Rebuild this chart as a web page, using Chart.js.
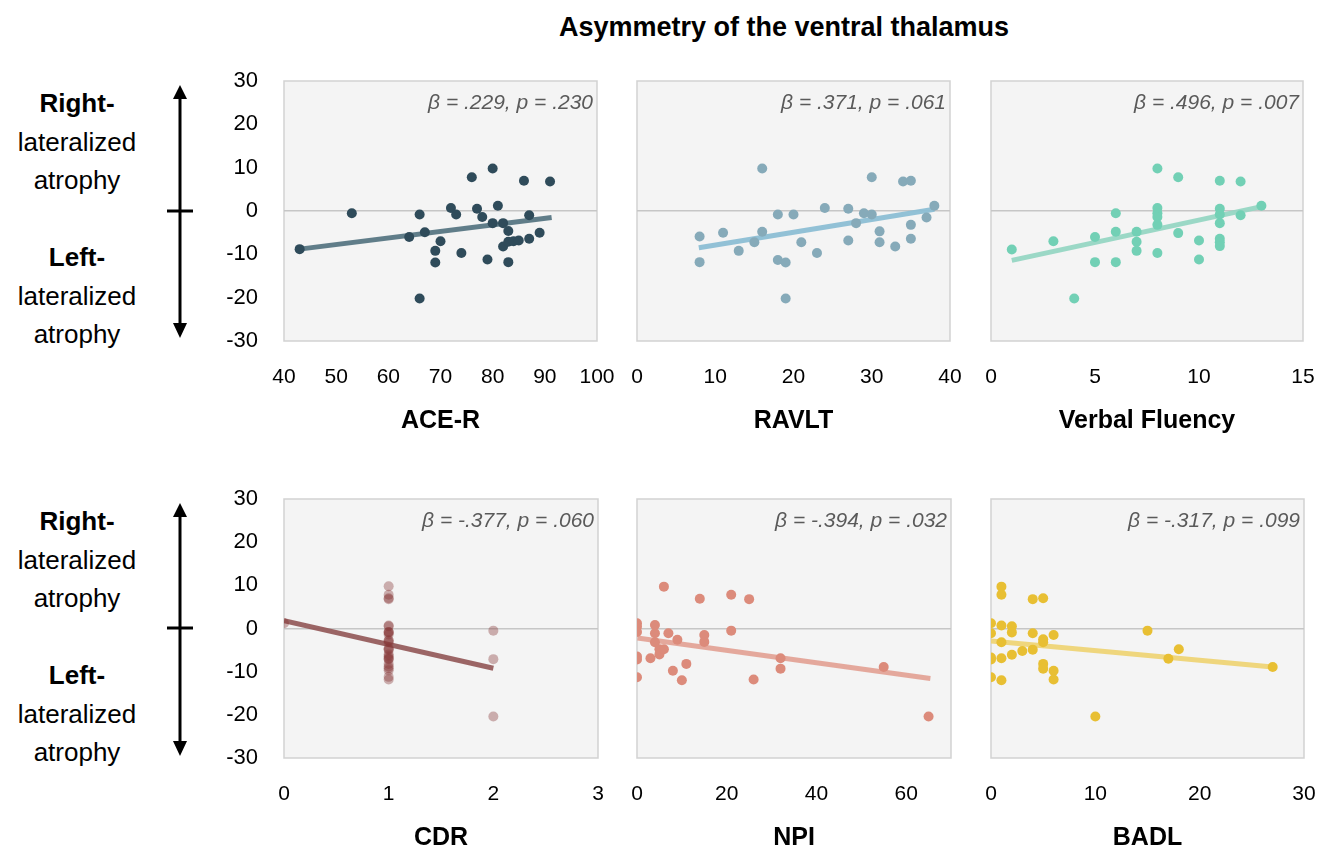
<!DOCTYPE html>
<html><head><meta charset="utf-8">
<script src="https://cdn.jsdelivr.net/npm/chart.js@4.4.0/dist/chart.umd.min.js"></script>
<style>
html,body{margin:0;padding:0;background:#fff;}
body{width:1335px;height:857px;position:relative;overflow:hidden;font-family:"Liberation Sans",Arial,sans-serif;color:#000;}
canvas{position:absolute;}
#title{position:absolute;left:784px;top:27px;transform:translate(-50%,-50%);font-weight:bold;font-size:27px;white-space:nowrap;}
.side{position:absolute;left:-5px;width:164px;text-align:center;font-size:26px;line-height:38.5px;}
.side b{font-weight:bold;}
svg{position:absolute;left:0;top:0;}
</style></head><body>
<div id="title">Asymmetry of the ventral thalamus</div>
<div class="side" style="top:84px"><b>Right-</b><br>lateralized<br>atrophy</div>
<div class="side" style="top:238px"><b>Left-</b><br>lateralized<br>atrophy</div>
<div class="side" style="top:502px"><b>Right-</b><br>lateralized<br>atrophy</div>
<div class="side" style="top:656px"><b>Left-</b><br>lateralized<br>atrophy</div>
<svg width="1335" height="857">
  <g stroke="#000" stroke-width="3" fill="#000">
    <line x1="180" y1="95" x2="180" y2="327"/>
    <polygon points="180,85 173,99 187,99" stroke="none"/>
    <polygon points="180,338 173,323 187,323" stroke="none"/>
    <line x1="167" y1="211" x2="193" y2="211"/>
    <line x1="180" y1="513" x2="180" y2="745"/>
    <polygon points="180,503 173,517 187,517" stroke="none"/>
    <polygon points="180,756 173,741 187,741" stroke="none"/>
    <line x1="167" y1="628" x2="193" y2="628"/>
  </g>
</svg>
<canvas id="c1"></canvas><canvas id="c2"></canvas><canvas id="c3"></canvas>
<canvas id="c4"></canvas><canvas id="c5"></canvas><canvas id="c6"></canvas>
<script>
// ---------- data ----------
const yTicks = [-30, -20, -10, 0, 10, 20, 30];

const aceX = [43,53,66,64,67,70,69,69,66,72,73,74,76,77,78,79,80,80,81,82,83,82,83,84,85,83,86,87,87,89,91];
const aceY = [-8.8,-0.5,-0.8,-6,-4.9,-7,-9.2,-11.9,-20.2,0.7,-0.8,-9.7,7.8,0.5,-1.4,-11.2,9.8,-2.8,1.2,-2.8,-4.6,-8.2,-7.1,-7,-6.8,-11.8,7,-1,-6.4,-5,6.8];
const aceTrend = [[43,-8.8],[91.3,-1.5]];
const aceTicks = [40,50,60,70,80,90,100];

const ravltX = [8,8,11,13,15,16,16,18,18,19,19,20,21,23,24,27,27,28,29,30,30,31,31,33,34,35,35,35,37,38];
const ravltY = [-5.9,-11.8,-5,-9.2,-7.2,-4.8,9.8,-0.8,-11.3,-11.9,-20.2,-0.8,-7.2,-9.7,0.7,0.5,-6.8,-2.8,-0.5,-0.8,7.8,-4.7,-7.2,-8.2,6.8,7,-3.2,-6.4,-1.5,1.2];
const ravltTrend = [[7.9,-8.5],[38,0.4]];
const ravltTicks = [0,10,20,30,40];

const vfX = [1,3,4,5,5,6,6,6,7,7,7,8,8,8,8,8,8,9,9,10,10,11,11,11,11,11,11,11,12,12,13];
const vfY = [-8.9,-7,-20.2,-6,-11.8,-0.5,-4.8,-11.8,-4.8,-7.1,-9.2,9.8,0.7,-0.5,-1.4,-3.2,-9.7,7.8,-5.1,-6.8,-11.2,7,0.5,-0.8,-2.8,-6.4,-7.2,-8.1,6.8,-1,1.2];
const vfTrend = [[1,-11.4],[13,1.0]];
const vfTicks = [0,5,10,15];

const cdrX = [0,1,1,1,1,1,1,1,1,1,1,1,1,1,1,1,1,1,1,1,1,1,1,1,1,1,1,1,2,2,2];
const cdrY = [1.2,9.8,7.8,7,6.8,0.7,0.5,-0.8,-0.8,-1,-1.4,-2.8,-2.8,-3.2,-4.6,-4.8,-5,-6,-6.4,-6.8,-7,-7.2,-8.2,-8.8,-9.2,-9.7,-11.2,-11.8,-0.5,-7.1,-20.4];
const cdrTrend = [[0,1.8],[2,-9.2]];
const cdrTicks = [0,1,2,3];

const npiX = [0,0,0,0,0,0,3,4,4,4,5,5,6,6,7,8,9,10,11,14,15,15,21,21,25,26,32,32,55,65];
const npiY = [1.2,0.4,-0.8,-6.5,-7.2,-11.3,-6.9,0.8,-1.1,-3.2,-4.8,-6,9.7,-4.8,-1.1,-9.8,-2.6,-12,-8.2,6.9,-1.5,-3.1,7.8,-0.5,6.8,-11.8,-6.9,-9.3,-8.9,-20.4];
const npiTrend = [[0.1,-2.2],[65.4,-11.6]];
const npiTicks = [0,20,40,60];

const badlX = [0,0,0,0,0,1,1,1,1,1,1,2,2,2,3,4,4,4,5,5,5,5,5,6,6,6,10,15,17,18,27];
const badlY = [1.2,-1.1,-6.7,-7.2,-11.3,9.7,7.8,0.7,-3.2,-6.9,-12,0.5,-0.9,-6.1,-5.2,6.8,-1.1,-4.9,7,-2.5,-3.2,-8.2,-9.3,-1.5,-9.8,-11.8,-20.4,-0.5,-7,-4.8,-8.9];
const badlTrend = [[0,-2.9],[27,-8.9]];
const badlTicks = [0,10,20,30];

const stats = ['β = .229, p = .230','β = .371, p = .061','β = .496, p = .007','β = -.377, p = .060','β = -.394, p = .032','β = -.317, p = .099'];
const xTitles = ['ACE-R','RAVLT','Verbal Fluency','CDR','NPI','BADL'];

// ---------- rendering ----------
Chart.defaults.font.family = '"Liberation Sans", Arial, sans-serif';
Chart.defaults.color = '#000';

const deco = {
  id: 'deco',
  beforeDraw(chart) {
    const {ctx, chartArea: a} = chart;
    ctx.save();
    ctx.fillStyle = '#f4f4f4';
    ctx.fillRect(a.left, a.top, a.right - a.left, a.bottom - a.top);
    ctx.strokeStyle = '#d2d2d2';
    ctx.lineWidth = 1.5;
    ctx.strokeRect(a.left, a.top, a.right - a.left, a.bottom - a.top);
    ctx.restore();
  },
  afterDraw(chart, args, opts) {
    const {ctx, chartArea: a} = chart;
    ctx.save();
    ctx.font = 'italic 21px "Liberation Sans", Arial, sans-serif';
    ctx.fillStyle = '#5a5a5a';
    ctx.textAlign = 'right';
    ctx.textBaseline = 'middle';
    ctx.fillText(opts.text, a.right - 4, a.top + 22);
    ctx.restore();
  }
};

function pts(xs, ys) { return xs.map((x, i) => ({x: x, y: ys[i]})); }

function makeChart(id, g, xs, ys, trend, xMin, xMax, xTicks, showY, ptColor, lineColor, stat, xTitle) {
  const cv = document.getElementById(id);
  cv.width = g.w; cv.height = g.h;
  cv.style.left = g.l + 'px'; cv.style.top = g.t + 'px';
  cv.style.width = g.w + 'px'; cv.style.height = g.h + 'px';
  new Chart(cv, {
    type: 'scatter',
    data: {
      datasets: [
        {type: 'scatter', data: pts(xs, ys), backgroundColor: ptColor, borderWidth: 0, pointRadius: 5, pointHoverRadius: 5, order: 1},
        {type: 'line', data: trend.map(p => ({x: p[0], y: p[1]})), borderColor: lineColor, borderWidth: 5, pointRadius: 0, fill: false, order: 2, borderCapStyle: 'butt'}
      ]
    },
    options: {
      responsive: false, animation: false, devicePixelRatio: 1,
      layout: {padding: {top: g.pt, left: g.pl, right: g.pr, bottom: 0}},
      plugins: {legend: {display: false}, tooltip: {enabled: false}, deco: {text: stat}},
      scales: {
        x: {
          type: 'linear', min: xMin, max: xMax,
          afterBuildTicks: s => { s.ticks = xTicks.map(v => ({value: v})); },
          afterFit: s => { s.height = 95; },
          grid: {display: false, drawTicks: true, tickLength: 24, tickColor: 'rgba(0,0,0,0)'},
          border: {display: false},
          ticks: {autoSkip: false, maxRotation: 0, padding: 0, font: {size: 21}, color: '#000'},
          title: {display: true, text: xTitle, font: {size: 25, weight: 'bold'}, color: '#000', padding: {top: 0, bottom: 0}}
        },
        y: {
          type: 'linear', min: -30, max: 30,
          afterBuildTicks: s => { s.ticks = yTicks.map(v => ({value: v})); },
          afterFit: s => { s.width = g.yw; },
          grid: {drawTicks: true, tickLength: 26, tickColor: 'rgba(0,0,0,0)', lineWidth: 1.5, color: c => (c.tick && c.tick.value === 0) ? '#c6c6c6' : 'rgba(0,0,0,0)'},
          border: {display: false},
          ticks: {display: showY, padding: 0, font: {size: 22}, color: '#000'}
        }
      }
    },
    plugins: [deco]
  });
}

// geometry (canvas placement only)
const G = [
  {l: 200, t: 66, w: 419, h: 370, pt: 15, pl: 0, pr: 22, yw: 84},
  {l: 621, t: 66, w: 351, h: 370, pt: 15, pl: 16, pr: 22, yw: 0},
  {l: 975, t: 66, w: 353, h: 370, pt: 15, pl: 16, pr: 25, yw: 0},
  {l: 200, t: 484, w: 420, h: 369, pt: 15, pl: 0, pr: 22, yw: 84},
  {l: 621, t: 484, w: 352, h: 369, pt: 15, pl: 16, pr: 22, yw: 0},
  {l: 975, t: 484, w: 354, h: 369, pt: 15, pl: 16, pr: 25, yw: 0}
];

makeChart('c1', G[0], aceX, aceY, aceTrend, 40, 100, aceTicks, true, '#2f4b5a', 'rgba(80,112,125,0.9)', stats[0], xTitles[0]);
makeChart('c2', G[1], ravltX, ravltY, ravltTrend, 0, 40, ravltTicks, false, '#86aab9', 'rgba(140,190,212,0.95)', stats[1], xTitles[1]);
makeChart('c3', G[2], vfX, vfY, vfTrend, 0, 15, vfTicks, false, '#72d0b5', 'rgba(150,214,195,0.95)', stats[2], xTitles[2]);
makeChart('c4', G[3], cdrX, cdrY, cdrTrend, 0, 3, cdrTicks, true, 'rgba(135,55,55,0.38)', 'rgba(145,85,85,0.9)', stats[3], xTitles[3]);
makeChart('c5', G[4], npiX, npiY, npiTrend, 0, 70, npiTicks, false, '#dc8b7b', 'rgba(226,160,146,0.9)', stats[4], xTitles[4]);
makeChart('c6', G[5], badlX, badlY, badlTrend, 0, 30, badlTicks, false, '#e8bf33', 'rgba(238,212,118,0.95)', stats[5], xTitles[5]);
</script>
</body></html>
